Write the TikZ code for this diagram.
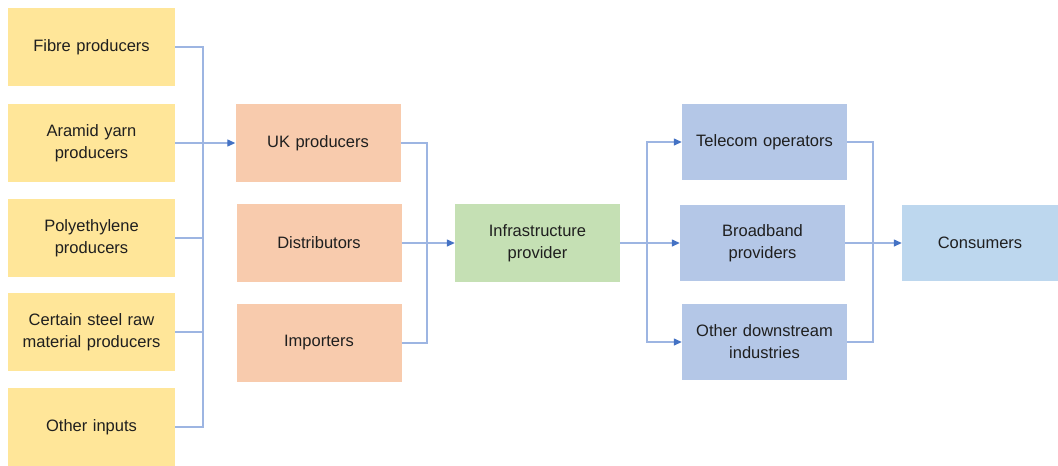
\documentclass[tikz,border=0pt]{standalone}
\usepackage{fontspec}
\setmainfont{Liberation Sans}
\usetikzlibrary{arrows.meta}
\definecolor{cyellow}{HTML}{FFE699}
\definecolor{corange}{HTML}{F8CBAD}
\definecolor{cgreen}{HTML}{C5E0B4}
\definecolor{cblue}{HTML}{B4C7E7}
\definecolor{clblue}{HTML}{BDD7EE}
\definecolor{cline}{HTML}{9DB5E2}
\definecolor{ctip}{HTML}{4472C4}
\definecolor{ctext}{HTML}{1F1F1F}
\tikzset{
  box/.style={rectangle, inner sep=0pt, minimum height=78pt, text width=150pt, align=center,
    font=\fontsize{16.5}{22}\selectfont, text=ctext},
  ybox/.style={box, fill=cyellow, minimum width=167pt},
  obox/.style={box, fill=corange, minimum width=165pt},
  gbox/.style={box, fill=cgreen, minimum width=165pt},
  bbox/.style={box, fill=cblue, minimum width=165pt, minimum height=76pt},
  lbbox/.style={box, fill=clblue, minimum width=156pt, minimum height=76pt},
  conn/.style={draw=cline, line width=1.3pt},
  arr/.style={conn, -{Triangle[length=8pt,width=7pt,color=ctip]}},
}
\begin{document}
\begin{tikzpicture}[x=1pt,y=-1pt]
\useasboundingbox (0,0) rectangle (1058,466);
% left column
\node[ybox] (fibre)  at (91.5,47)  {Fibre producers};
\node[ybox] (aramid) at (91.5,143) {Aramid yarn\\producers};
\node[ybox] (poly)   at (91.5,238) {Polyethylene\\producers};
\node[ybox] (steel)  at (91.5,332) {Certain steel raw\\material producers};
\node[ybox] (other)  at (91.5,427) {Other inputs};
% second column
\node[obox] (uk)   at (318,143) {UK producers};
\node[obox] (dist) at (319,243) {Distributors};
\node[obox] (imp)  at (319,343) {Importers};
% middle
\node[gbox] (infra) at (537.5,243) {Infrastructure\\provider};
% fourth column
\node[bbox] (tele)  at (764.5,142) {Telecom operators};
\node[bbox] (broad) at (762.5,243) {Broadband\\providers};
\node[bbox] (odi)   at (764.5,342) {Other downstream\\industries};
% consumers
\node[lbbox] (cons) at (980,243) {Consumers};
% junctions
\coordinate (jL) at (203,143);
\coordinate (jM) at (427,243);
\coordinate (jR) at (647,243);
\coordinate (jC) at (873,243);
% left connectors
\draw[conn] (fibre.east) -| (jL);
\draw[conn] (poly.east) -| (jL);
\draw[conn] (steel.east) -| (jL);
\draw[conn] (other.east) -| (jL);
\draw[arr] (aramid.east) -- (uk.west);
% middle connectors
\draw[conn] (uk.east) -| (jM);
\draw[conn] (imp.east) -| (jM);
\draw[arr] (dist.east) -- (infra.west);
% split
\draw[arr] (jR) |- (tele.west);
\draw[arr] (jR) |- (odi.west);
\draw[arr] (infra.east) -- (broad.west);
% consumers
\draw[conn] (tele.east) -| (jC);
\draw[conn] (odi.east) -| (jC);
\draw[arr] (broad.east) -- (cons.west);
\end{tikzpicture}
\end{document}
